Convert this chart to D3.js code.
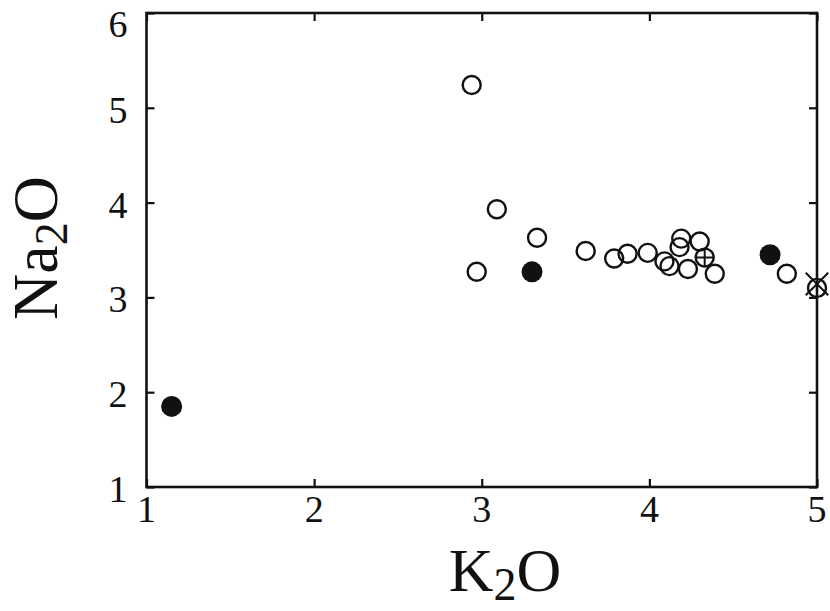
<!DOCTYPE html>
<html>
<head>
<meta charset="utf-8">
<script src="https://cdn.jsdelivr.net/npm/d3@7"></script>
<style>
  body { margin: 0; background: #fff; }
  text { font-family: "Liberation Serif", "Times New Roman", serif; fill: #111; }
</style>
</head>
<body>
<svg id="chart" width="830" height="611"></svg>
<script>
// K2O vs Na2O samples
const openK2O  = [2.94, 3.09, 2.97, 3.33, 3.62, 3.79, 3.87, 3.99, 4.09, 4.12, 4.19, 4.18, 4.30, 4.23, 4.39, 4.82];
const openNa2O = [5.24, 3.93, 3.27, 3.63, 3.49, 3.41, 3.46, 3.47, 3.38, 3.33, 3.62, 3.53, 3.59, 3.30, 3.25, 3.25];
const filledK2O  = [1.15, 3.30, 4.72];
const filledNa2O = [1.85, 3.27, 3.45];
const plusK2O = [4.33], plusNa2O = [3.42];
const crossK2O = [5.00], crossNa2O = [3.10];
const xTicks = [1, 2, 3, 4, 5];
const yTicks = [1, 2, 3, 4, 5, 6];

const svg = d3.select('#chart');
const margin = { top: 13, right: 13, bottom: 124, left: 146.5 };
const width = 830 - margin.left - margin.right;
const height = 611 - margin.top - margin.bottom;

const x = d3.scaleLinear().domain([1, 5]).range([0, width]);
const y = d3.scaleLinear().domain([1, 6]).range([height, 0]);

const g = svg.append('g').attr('transform', `translate(${margin.left},${margin.top})`);

// frame with inward ticks on all four sides
const tickLen = 8;
const styleAxis = sel => {
  sel.select('.domain').remove();
  sel.selectAll('.tick line').attr('stroke', '#111').attr('stroke-width', 2.2);
};
g.append('g').attr('transform', `translate(0,${height})`)
  .call(d3.axisBottom(x).tickValues(xTicks).tickSize(-tickLen).tickFormat(''))
  .call(styleAxis);
g.append('g')
  .call(d3.axisTop(x).tickValues(xTicks).tickSize(-tickLen).tickFormat(''))
  .call(styleAxis);
g.append('g')
  .call(d3.axisLeft(y).tickValues(yTicks).tickSize(-tickLen).tickFormat(''))
  .call(styleAxis);
g.append('g').attr('transform', `translate(${width},0)`)
  .call(d3.axisRight(y).tickValues(yTicks).tickSize(-tickLen).tickFormat(''))
  .call(styleAxis);

g.append('rect')
  .attr('width', width).attr('height', height)
  .attr('fill', 'none').attr('stroke', '#111').attr('stroke-width', 2.6);

// tick labels
g.selectAll('.xl').data(xTicks).enter().append('text')
  .attr('x', d => x(d)).attr('y', height + 35)
  .attr('text-anchor', 'middle').attr('font-size', 38)
  .text(d => d);
g.selectAll('.yl').data(yTicks).enter().append('text')
  .attr('x', -19).attr('y', d => Math.max(y(d) + 15, 24))
  .attr('text-anchor', 'end').attr('font-size', 38)
  .text(d => d);

// axis titles
const xt = svg.append('text')
  .attr('x', 505).attr('y', 591)
  .attr('text-anchor', 'middle').attr('font-size', 62);
xt.append('tspan').text('K');
xt.append('tspan').attr('font-size', 46).attr('dy', 9).text('2');
xt.append('tspan').attr('dy', -9).text('O');

const yt = svg.append('text')
  .attr('transform', 'translate(57,248) rotate(-90)')
  .attr('text-anchor', 'middle').attr('font-size', 64);
yt.append('tspan').text('Na');
yt.append('tspan').attr('font-size', 46).attr('dy', 10).text('2');
yt.append('tspan').attr('dy', -10).text('O');

// markers
const r = 9;
const openPts = openK2O.map((k, i) => ({ k, n: openNa2O[i] }));
const filledPts = filledK2O.map((k, i) => ({ k, n: filledNa2O[i] }));
const plusPts = plusK2O.map((k, i) => ({ k, n: plusNa2O[i] }));
const crossPts = crossK2O.map((k, i) => ({ k, n: crossNa2O[i] }));

g.selectAll('.open').data(openPts.concat(plusPts, crossPts)).enter().append('circle')
  .attr('cx', d => x(d.k)).attr('cy', d => y(d.n)).attr('r', r)
  .attr('fill', 'none').attr('stroke', '#111').attr('stroke-width', 2.4);

g.selectAll('.filled').data(filledPts).enter().append('circle')
  .attr('cx', d => x(d.k)).attr('cy', d => y(d.n)).attr('r', r + 1.5)
  .attr('fill', '#111');

plusPts.forEach(d => {
  const cx = x(d.k), cy = y(d.n);
  g.append('path')
    .attr('d', `M${cx - r},${cy}H${cx + r}M${cx},${cy - r}V${cy + r}`)
    .attr('stroke', '#111').attr('stroke-width', 2);
});
crossPts.forEach(d => {
  const cx = x(d.k), cy = y(d.n), a = r * 1.25;
  g.append('path')
    .attr('d', `M${cx - a},${cy - a - 4}L${cx + a},${cy + a - 4}M${cx + a},${cy - a - 4}L${cx - a},${cy + a - 4}`)
    .attr('stroke', '#111').attr('stroke-width', 2);
});
</script>
</body>
</html>
